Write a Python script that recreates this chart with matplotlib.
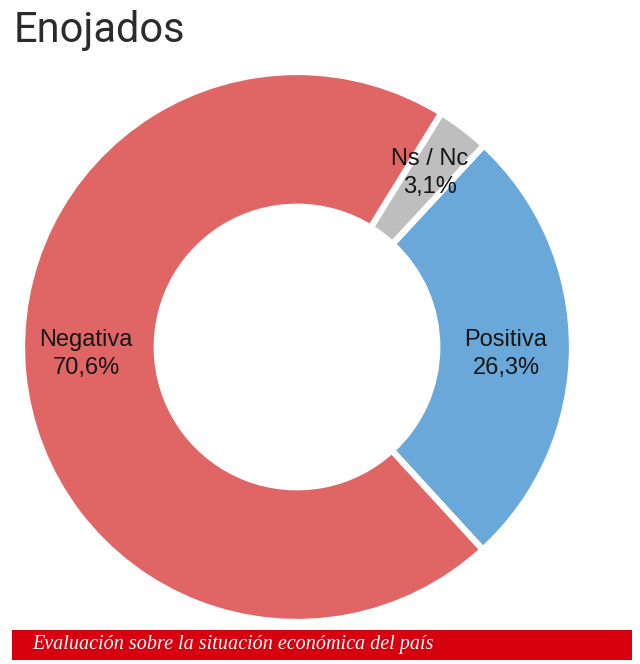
import matplotlib
matplotlib.use("Agg")
import matplotlib.pyplot as plt

categories = ["Positiva", "Ns / Nc", "Negativa"]
values = [26.3, 3.1, 70.6]
value_labels = ["26,3%", "3,1%", "70,6%"]
colors = ["#6AA8DA", "#BEBEBE", "#E06666"]
title = "Enojados"
footer = "Evaluación sobre la situación económica del país"

# layout: label anchor points (axes data units, radius = 1)
label_xy = [(0.76, -0.025), (0.484, 0.633), (-0.767, -0.025)]

fig = plt.figure(figsize=(6.4, 6.64), dpi=100)
ax = fig.add_axes([22 / 640, 42 / 664, 550 / 640, 550 / 664])
wedges, _ = ax.pie(values, colors=colors, startangle=-47.5, counterclock=True,
                   radius=1.0, wedgeprops=dict(width=0.49, edgecolor="white", linewidth=4.5))
ax.set_xlim(-1, 1)
ax.set_ylim(-1, 1)
ax.set_aspect("equal")
ax.axis("off")

for (x, y), cat, vl in zip(label_xy, categories, value_labels):
    ax.text(x, y, f"{cat}\n{vl}", ha="center", va="center",
            fontsize=17, color="#151515", family=["Liberation Sans", "DejaVu Sans"],
            linespacing=1.35)

fig.text(14 / 640, 1 - 42 / 664, title, fontsize=30, color="#2b2b2b",
         family=["Roboto", "DejaVu Sans"], ha="left", va="baseline")

bar_ax = fig.add_axes([12 / 640, 1 - 660 / 664, 620 / 640, 30 / 664])
bar_ax.set_facecolor("#D7000F")
bar_ax.set_xticks([])
bar_ax.set_yticks([])
for s in bar_ax.spines.values():
    s.set_visible(False)
bar_ax.text(20 / 620, 0.5, footer, transform=bar_ax.transAxes, ha="left", va="center",
            fontsize=14.5, color="white", style="italic",
            family=["Liberation Serif", "DejaVu Serif"])

fig.savefig("out.png", dpi=100, facecolor="white")
